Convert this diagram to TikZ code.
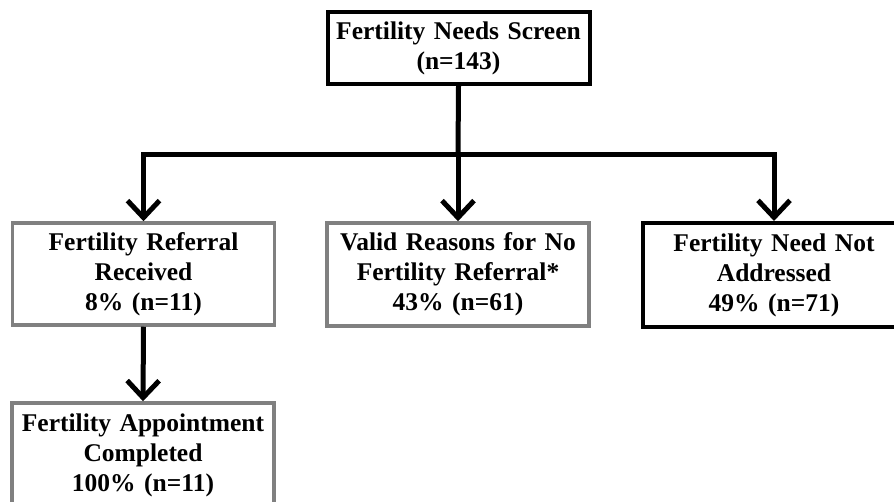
\documentclass[tikz,border=0pt]{standalone}
\usepackage{fontspec}
\setmainfont{Liberation Serif}
\usetikzlibrary{arrows.meta}
\definecolor{boxgray}{RGB}{128,128,128}
\tikzset{
  boxbase/.style={rectangle, minimum width=262pt, text width=250pt, inner sep=0pt, align=center,
    font=\fontsize{25.5}{30}\selectfont\bfseries, fill=white},
  blackbox/.style={boxbase, draw=black, line width=4pt},
  graybox/.style={boxbase, draw=boxgray, line width=3.5pt},
  conn/.style={line width=5pt, draw=black},
  arr/.style={conn, -{Straight Barb[length=17pt,width=32pt,line width=5pt]}}
}
\begin{document}
\begin{tikzpicture}[x=1pt,y=-1pt]
\clip (0,0) rectangle (894,502);
\fill[white] (0,0) rectangle (894,502);
\node[blackbox, minimum height=72pt] (top) at (458.5,48) {Fertility Needs Screen\\(n=143)};
\node[graybox, minimum height=102pt] (left) at (143.5,274) {Fertility Referral\\Received\\8\% (n=11)};
\node[graybox, minimum height=103pt] (mid) at (458,274.5) {Valid Reasons for No\\Fertility Referral*\\43\% (n=61)};
\node[blackbox, minimum height=104pt] (right) at (774,275) {Fertility Need Not\\Addressed\\49\% (n=71)};
\node[graybox, minimum height=104pt] (bot) at (143,455) {Fertility Appointment\\Completed\\100\% (n=11)};
\coordinate (jm) at (458,155);
\draw[conn] (top.south) -- (jm);
\draw[arr] (jm) -- (mid.north);
\draw[arr] (jm) -| (left.north);
\draw[arr] (jm) -| (right.north);
\draw[arr] (left.south) -- (bot.north);
\end{tikzpicture}
\end{document}
